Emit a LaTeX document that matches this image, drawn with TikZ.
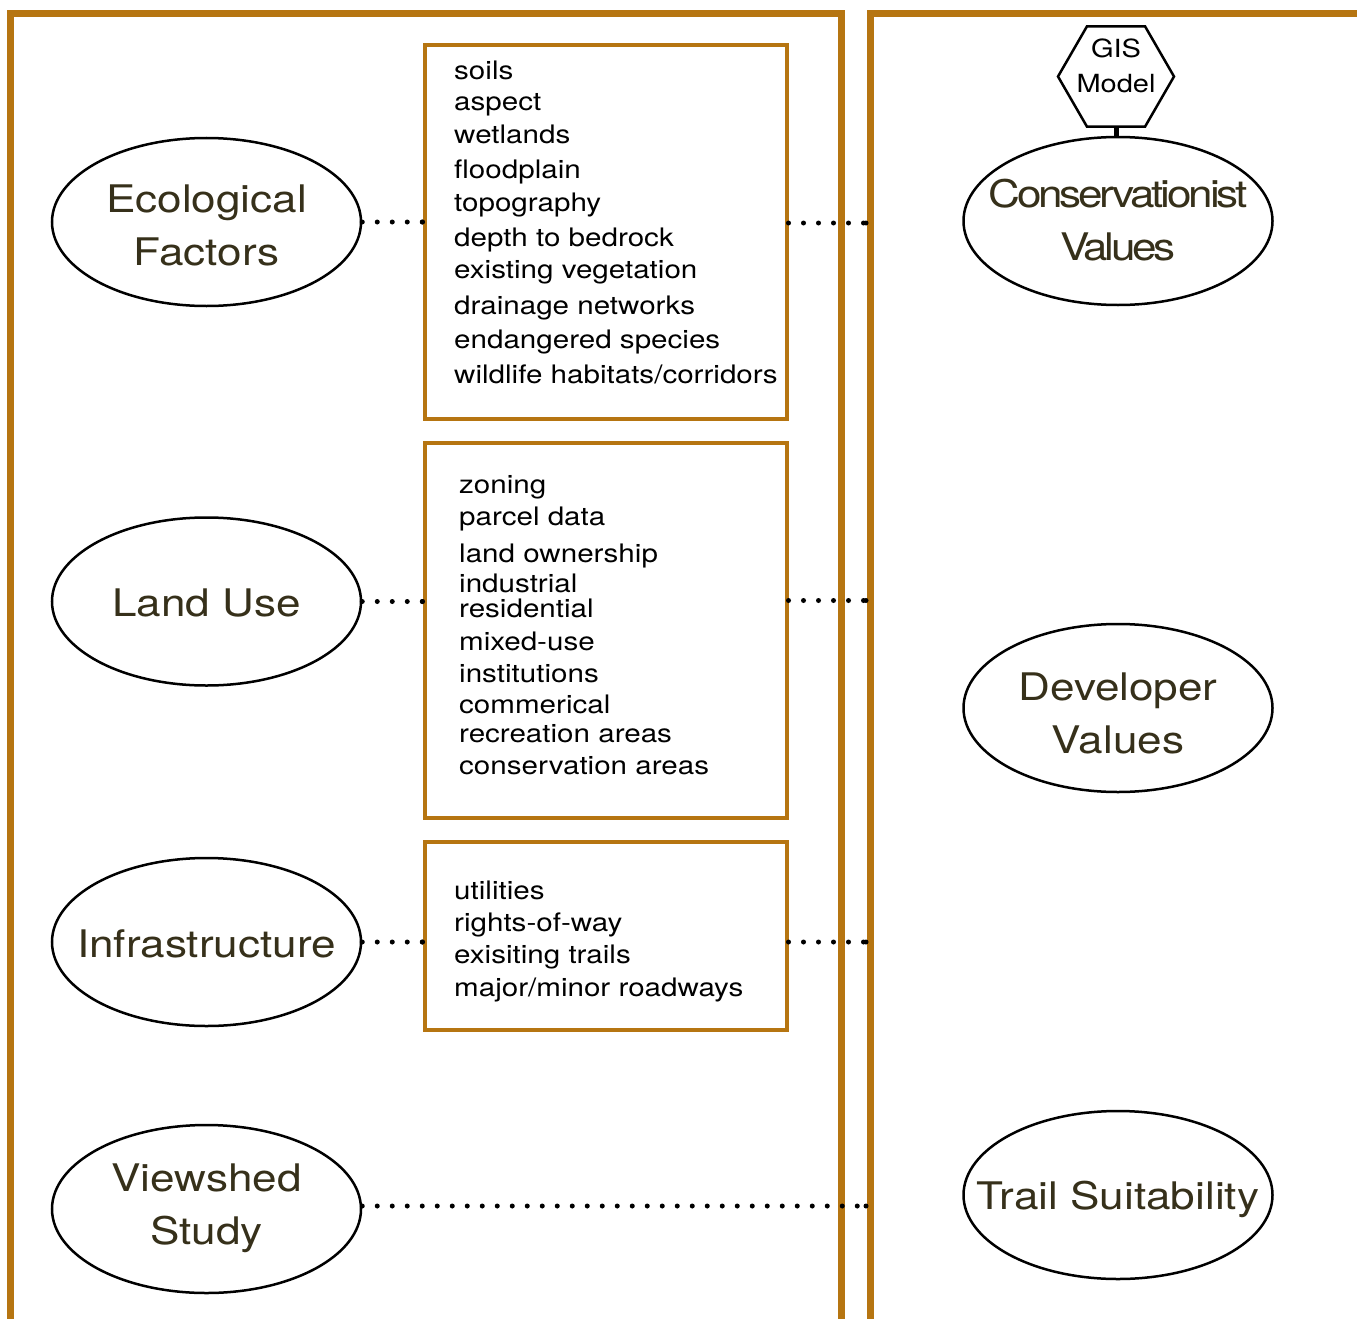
\documentclass[tikz,border=0pt]{standalone}
\usepackage{fontspec}
\setmainfont{TeX Gyre Heros}
\newfontfamily\widefont[FakeStretch=1.16]{TeX Gyre Heros}
\newfontfamily\tightfont[FakeStretch=1.16, LetterSpace=-8.5]{TeX Gyre Heros}
\usetikzlibrary{shapes.geometric,decorations.markings}
\definecolor{framecol}{RGB}{182,117,17}
\definecolor{labelcol}{RGB}{54,48,26}
\tikzset{
  panel/.style={draw=framecol, line width=7pt, line join=miter},
  listbox/.style={draw=framecol, line width=4pt, rectangle, inner sep=0pt},
  topic/.style={draw=black, line width=2.5pt, ellipse, inner sep=0pt,
    minimum width=309pt, minimum height=168pt},
  topictext/.style={inner sep=0pt, align=center, text=labelcol,
    font=\widefont\fontsize{38}{53}\selectfont},
  item/.style={inner sep=0pt, anchor=base west, text=black,
    font=\widefont\fontsize{25.5}{30}\selectfont},
  dotline/.style={line width=5pt, line cap=round, dash pattern=on 0pt off 15pt,
    decoration={markings, mark=at position 1 with {\fill[black] (0,0) circle (2.5pt);}},
    postaction=decorate},
}
\begin{document}
\begin{tikzpicture}[x=1pt, y=-1pt]
\useasboundingbox (0,0) rectangle (1357,1319);

% two open panels
\draw[panel] (10.5,1320) -- (10.5,13.5) -- (841.5,13.5) -- (841.5,1320);
\draw[panel] (870.5,1320) -- (870.5,13.5) -- (1360,13.5);

% data lists
\node[listbox, minimum width=362pt, minimum height=374pt] (box1) at (605.5,232) {};
\node[listbox, minimum width=362pt, minimum height=375pt] (box2) at (605.5,630.5) {};
\node[listbox, minimum width=362pt, minimum height=188pt] (box3) at (605.5,936) {};

\foreach \t/\y [count=\i] in {soils/80, aspect/111, wetlands/143, floodplain/178,
    topography/211, depth to bedrock/246, existing vegetation/278,
    drainage networks/314, endangered species/348, {wildlife habitats/corridors}/383}
  \node[item] (eco\i) at (454,\y) {\t};

\foreach \t/\y [count=\i] in {zoning/493, parcel data/525, land ownership/562,
    industrial/592, residential/617, mixed-use/650, institutions/682,
    commerical/713, recreation areas/742, conservation areas/774}
  \node[item] (use\i) at (459,\y) {\t};

\foreach \t/\y [count=\i] in {utilities/899, rights-of-way/931,
    exisiting trails/963, {major/minor roadways}/996}
  \node[item] (inf\i) at (454,\y) {\t};

% input layers
\node[topic] (ecol) at (206.5,222) {};
\node[topic] (land) at (206.5,601.5) {};
\node[topic] (infra) at (206.5,942) {};
\node[topic] (view) at (206.5,1209) {};
\node[topictext, anchor=base] (ecoltxt) at (206.5,265) {Ecological\\Factors};
\node[topictext] (landtxt) at (206.5,603) {Land Use};
\node[topictext] (infratxt) at (206.5,944) {Infrastructure};
\node[topictext, anchor=base] (viewtxt) at (206.5,1244) {Viewshed\\Study};

% resulting values
\node[topic] (cons) at (1118,221) {};
\node[topic] (dev) at (1118,708) {};
\node[topic] (trail) at (1118,1195) {};
\node[topictext, font=\tightfont\fontsize{38}{53}\selectfont, anchor=base] (constxt) at (1118,260) {Conservationist\\Values};
\node[topictext, anchor=base] (devtxt) at (1118,753) {Developer\\Values};
\node[topictext, anchor=base] (trailtxt) at (1118,1209) {Trail Suitability};

% model badge
\node[draw=black, line width=2.5pt, regular polygon, regular polygon sides=6,
  minimum size=116pt, inner sep=0pt] (gis) at (1116,76.5) {};
\node[inner sep=0pt, align=center, font=\widefont\fontsize{25}{35}\selectfont] (gistxt) at (1116,66) {GIS\\Model};
\draw[line width=5pt] (gis.south) -- (gis.south |- cons.north);

% dotted links
\coordinate (r1) at (866,223);
\coordinate (r2) at (866,600.5);
\coordinate (r3) at (866,942);
\coordinate (r4) at (866,1206);
\draw[dotline] (ecol.east) -- (ecol.east -| box1.west);
\draw[dotline] (box1.east |- r1) -- (r1);
\draw[dotline] (land.east) -- (land.east -| box2.west);
\draw[dotline] (box2.east |- r2) -- (r2);
\draw[dotline] (infra.east) -- (infra.east -| box3.west);
\draw[dotline] (box3.east |- r3) -- (r3);
\draw[dotline] (view.east |- r4) -- (r4);
\end{tikzpicture}
\end{document}
